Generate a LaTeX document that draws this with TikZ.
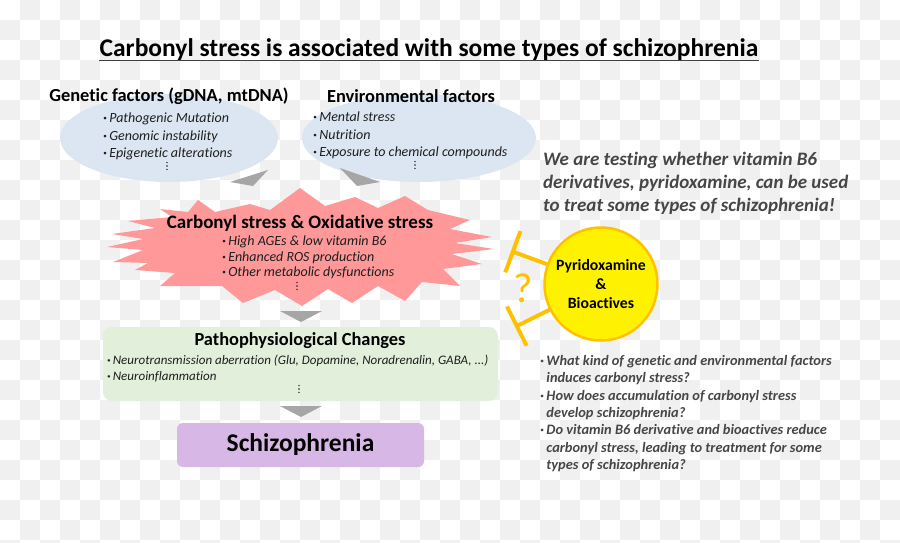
\documentclass[tikz,border=0pt]{standalone}
\usepackage{fontspec}
\setmainfont{Carlito}[Ligatures=NoCommon]
\usetikzlibrary{arrows.meta,shapes.geometric}
\definecolor{checkgrey}{RGB}{240,240,240}
\definecolor{factorblue}{RGB}{220,230,242}
\definecolor{burstred}{RGB}{255,153,153}
\definecolor{changegreen}{RGB}{226,239,218}
\definecolor{diseasepurple}{RGB}{215,183,229}
\definecolor{wedgegrey}{RGB}{166,166,166}
\definecolor{inhibitorange}{RGB}{255,192,0}
\definecolor{notegrey}{RGB}{70,70,70}
\definecolor{itemgrey}{RGB}{30,30,30}
\newcommand{\itemdot}{\textbf{·}\,}
\newcommand{\moredots}[1]{\foreach \k in {-3.4,0,3.4} \fill[itemgrey] (#1) ++(0,\k) circle (0.8pt);}

\begin{document}
\begin{tikzpicture}[x=1pt, y=-1pt,
    factor/.style={ellipse, fill=factorblue, inner sep=0pt},
    heading/.style={font=\fontsize{18.4}{22}\selectfont\bfseries, inner sep=0pt},
    items/.style={font=\fontsize{14}{17.3}\selectfont\itshape, text=itemgrey, align=left, anchor=north west, inner sep=0pt},
    smallitems/.style={items, font=\fontsize{13}{15.5}\selectfont\itshape},
    wedge/.style={fill=wedgegrey},
    note/.style={font=\fontsize{19}{23}\selectfont\bfseries\itshape, text=notegrey, align=left, anchor=north west, inner sep=0pt},
    question/.style={font=\fontsize{14.4}{17.4}\selectfont\bfseries\itshape, text=notegrey, align=left, anchor=north west, inner sep=0pt},
    inhibit/.style={draw=inhibitorange, line width=4pt, -{Bar[width=44pt]}}
]
    \useasboundingbox (0,0) rectangle (900,543);
    \begin{scope}
        \clip (0,0) rectangle (900,543);
        \foreach \i in {0,40,...,880}
            \foreach \j in {20,60,...,540}
                \fill[checkgrey] (\i,\j) rectangle ++(20,20);
        \foreach \i in {20,60,...,900}
            \foreach \j in {0,40,...,520}
                \fill[checkgrey] (\i,\j) rectangle ++(20,20);
    \end{scope}

    \node[font=\fontsize{25.5}{28}\selectfont\bfseries, inner sep=0pt] (title) at (429,50) {Carbonyl stress is associated with some types of schizophrenia};
    \draw[line width=1.4pt, black!75] ([yshift=-3.5pt]title.base west) -- ([yshift=-3.5pt]title.base east);

    \node[factor, minimum width=218pt, minimum height=88pt] (genetic) at (169,138) {};
    \node[factor, minimum width=234pt, minimum height=88pt] (environ) at (419,138) {};
    \node[heading] (genetichead) at (169,96) {Genetic factors (gDNA, mtDNA)};
    \node[heading] (environhead) at (411,96) {Environmental factors};
    \node[items] (geneticitems) at (103,113) {\itemdot Pathogenic Mutation\\ \itemdot Genomic instability\\ \itemdot Epigenetic alterations};
    \node[items] (environitems) at (313,112) {\itemdot Mental stress\\ \itemdot Nutrition\\ \itemdot Exposure to chemical compounds};
    \coordinate (geneticdots) at (167,166);
    \coordinate (environdots) at (415,165);
    \moredots{geneticdots}
    \moredots{environdots}

    \fill[wedge] (230,182) -- (268,170) -- (253,186) -- cycle;
    \fill[wedge] (340,168) -- (380,182) -- (357,186) -- cycle;

    \fill[burstred] (300,188) -- (325,206) -- (355,197) -- (378,208) -- (405,196) -- (428,210)
        -- (470,220) -- (450,229) -- (492,237) -- (455,243) -- (494,249) -- (452,254)
        -- (482,264) -- (443,269) -- (460,286) -- (422,282) -- (405,301) -- (378,286)
        -- (352,303) -- (328,289) -- (302,306) -- (275,290) -- (243,303) -- (222,286)
        -- (160,286) -- (175,273) -- (135,270) -- (148,263) -- (113,262) -- (143,250)
        -- (107,247) -- (143,239) -- (112,234) -- (155,228) -- (128,221) -- (172,217)
        -- (160,209) -- (188,212) -- (198,200) -- (215,212) -- (250,204) -- (270,210) -- cycle;
    \node[heading, font=\fontsize{19}{22}\selectfont\bfseries] (stresshead) at (300,223) {Carbonyl stress \& Oxidative stress};
    \node[items, font=\fontsize{14}{15.2}\selectfont\itshape] (stressitems) at (222,236) {\itemdot High AGEs \& low vitamin B6\\ \itemdot Enhanced ROS production\\ \itemdot Other metabolic dysfunctions};
    \coordinate (stressdots) at (297,286);
    \moredots{stressdots}

    \fill[wedge] (280,311) -- (322,311) -- (301,322) -- cycle;

    \node[fill=changegreen, rounded corners=9pt, minimum width=395pt, minimum height=74pt, inner sep=0pt] (changes) at (300.5,364) {};
    \node[heading] (changeshead) at (300,341) {Pathophysiological Changes};
    \node[smallitems] (changeitems) at (107,355) {\itemdot Neurotransmission aberration (Glu, Dopamine, Noradrenalin, GABA, ...)\\ \itemdot Neuroinflammation};
    \coordinate (changedots) at (299,389);
    \moredots{changedots}

    \fill[wedge] (280,406) -- (322,406) -- (301,417) -- cycle;

    \node[fill=diseasepurple, rounded corners=6pt, minimum width=247pt, minimum height=44pt, inner sep=0pt, font=\fontsize{25.5}{28}\selectfont\bfseries] (disease) at (300.5,445) {Schizophrenia};

    \node[note] (testing) at (543,151.5) {We are testing whether vitamin B6\\ derivatives, pyridoxamine, can be used\\ to treat some types of schizophrenia!};

    \node[circle, fill=yellow, draw=inhibitorange, line width=2.5pt, minimum size=113pt, inner sep=0pt, align=center, font=\fontsize{15.7}{19}\selectfont\bfseries] (pyridox) at (601,284) {Pyridoxamine\\ \&\\ Bioactives};
    \coordinate (burstend) at (511,251);
    \coordinate (changesend) at (515,327);
    \draw[inhibit] (pyridox) -- (burstend);
    \draw[inhibit] (pyridox) -- (changesend);
    \node[text=inhibitorange, font=\fontsize{42}{44}\selectfont, inner sep=0pt] (unknown) at (523,288) {?};

    \node[question] (questions) at (540,355) {\itemdot What kind of genetic and environmental factors\\ \phantom{\itemdot}induces carbonyl stress?\\ \itemdot How does accumulation of carbonyl stress\\ \phantom{\itemdot}develop schizophrenia?\\ \itemdot Do vitamin B6 derivative and bioactives reduce\\ \phantom{\itemdot}carbonyl stress, leading to treatment for some\\ \phantom{\itemdot}types of schizophrenia?};
\end{tikzpicture}
\end{document}
